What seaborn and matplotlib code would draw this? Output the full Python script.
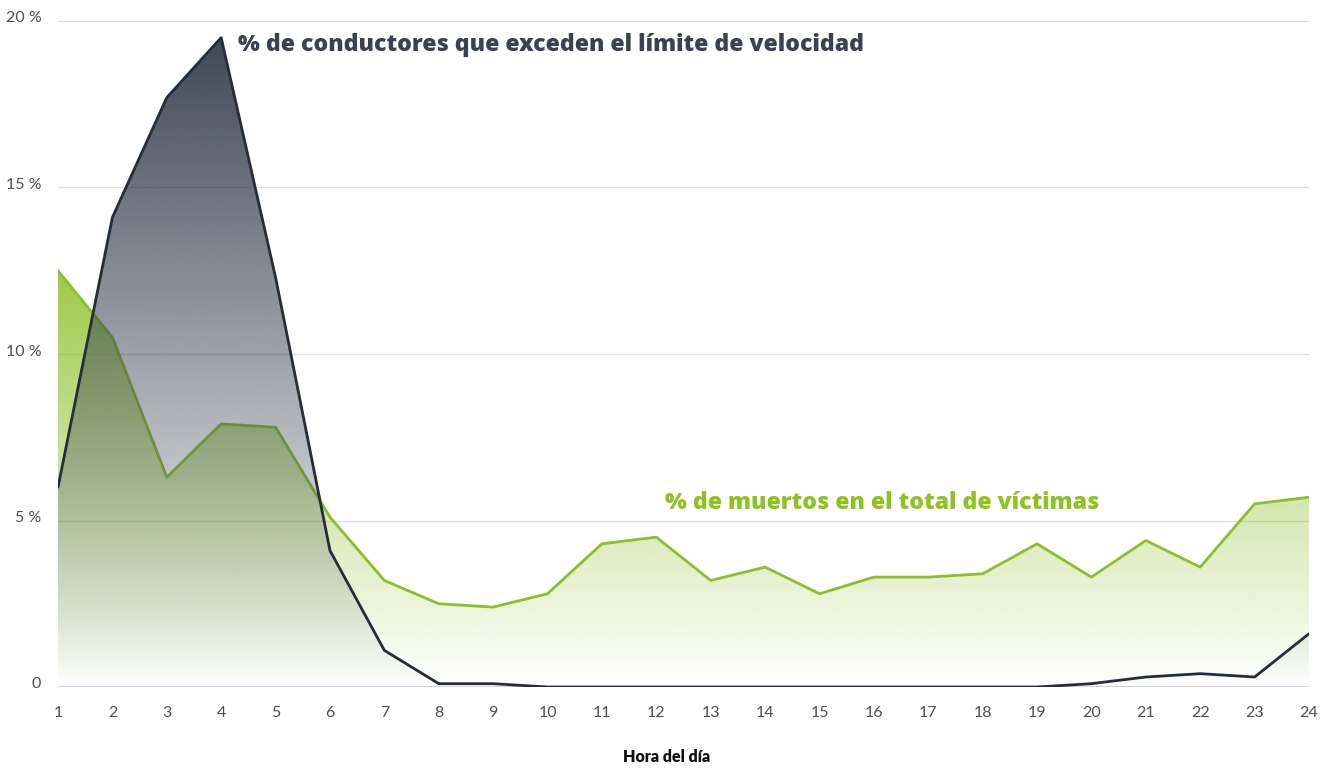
import numpy as np
import pandas as pd
import matplotlib
matplotlib.use('Agg')
import matplotlib.pyplot as plt
from matplotlib.colors import to_rgb
from matplotlib.transforms import ScaledTranslation
import seaborn as sns

# ---- data ----
horas = list(range(1, 25))
conductores = [6.0, 14.1, 17.7, 19.5, 12.3, 4.1, 1.1, 0.1, 0.1, 0, 0, 0, 0, 0, 0, 0, 0, 0, 0,
               0.1, 0.3, 0.4, 0.3, 1.6]
muertos = [12.5, 10.5, 6.3, 7.9, 7.8, 5.1, 3.2, 2.5, 2.4, 2.8, 4.3, 4.5, 3.2, 3.6, 2.8, 3.3,
           3.3, 3.4, 4.3, 3.3, 4.4, 3.6, 5.5, 5.7]
yticks = [0, 5, 10, 15, 20]
ytick_labels = ['0', '5 %', '10 %', '15 %', '20 %']
label_conductores = '% de conductores que exceden el límite de velocidad'
label_muertos = '% de muertos en el total de víctimas'
xlabel = 'Hora del día'

DARK = '#262d38'
DARK_FILL = '#3a4250'
GREEN = '#8cbf2c'
GREEN_FILL = '#8dc02a'

sns.set_theme(style='white')
plt.rcParams['font.family'] = ['Lato', 'DejaVu Sans']

fig = plt.figure(figsize=(13.3, 7.69), dpi=100)
ax = fig.add_axes([58 / 1330, 1 - 687 / 769, (1309 - 58) / 1330, (687 - 21) / 769])

df = pd.DataFrame({'hora': horas, 'conductores': conductores, 'muertos': muertos})


def gradient_fill(ax, x, y, color, a_top, a_bot, zorder):
    poly = ax.fill_between(x, y, 0, color='none', lw=0)
    ymax = max(y)
    n = 256
    img = np.zeros((n, 1, 4))
    img[:, :, :3] = to_rgb(color)
    img[:, 0, 3] = np.linspace(a_top, a_bot, n)
    im = ax.imshow(img, aspect='auto', extent=[min(x), max(x), 0, ymax],
                   origin='upper', zorder=zorder, interpolation='bilinear')
    im.set_clip_path(poly.get_paths()[0], transform=ax.transData)
    return im


gradient_fill(ax, df['hora'], df['muertos'], GREEN_FILL, 0.85, 0.0, 1)
sns.lineplot(data=df, x='hora', y='muertos', color=GREEN, lw=2, ax=ax, zorder=2)
gradient_fill(ax, df['hora'], df['conductores'], DARK_FILL, 0.97, 0.0, 3)
sns.lineplot(data=df, x='hora', y='conductores', color=DARK, lw=2, ax=ax, zorder=4)

ax.set_xlim(1, 24)
ax.set_ylim(0, 20)
ax.set_xticks(horas)
ax.set_xticklabels([str(h) for h in horas])
ax.set_yticks(yticks)
ax.set_yticklabels(ytick_labels)
ax.set_xlabel('')
ax.set_ylabel('')
for s in ax.spines.values():
    s.set_visible(False)
ax.yaxis.grid(True, color='#dcdcdc', lw=1, zorder=0)
ax.xaxis.grid(False)
ax.set_axisbelow(True)
ax.axhline(0, color='#d0d0d8', lw=1.5, zorder=0.5)
ax.tick_params(axis='x', length=0, pad=14, labelsize=11.5, labelcolor='#505050')
ax.tick_params(axis='y', length=0, pad=12, labelsize=11.5, labelcolor='#505050')
for lab in ax.get_yticklabels():
    lab.set_transform(lab.get_transform() + ScaledTranslation(0, 4 / 100, fig.dpi_scale_trans))

ax.text(4.31, 19.28, label_conductores, ha='left', va='center', fontsize=16.6,
        fontweight='heavy', color='#3a4150', zorder=5, family=['Open Sans', 'DejaVu Sans'])
ax.text(12.16, 5.53, label_muertos, ha='left', va='center', fontsize=16.6,
        fontweight='heavy', color='#8fc21f', zorder=5, family=['Open Sans', 'DejaVu Sans'])

fig.text(667 / 1330, 1 - 757 / 769, xlabel, ha='center', va='center', fontsize=11.5,
         fontweight='heavy', color='#111111')

fig.savefig('out.png', dpi=100, facecolor='white')
